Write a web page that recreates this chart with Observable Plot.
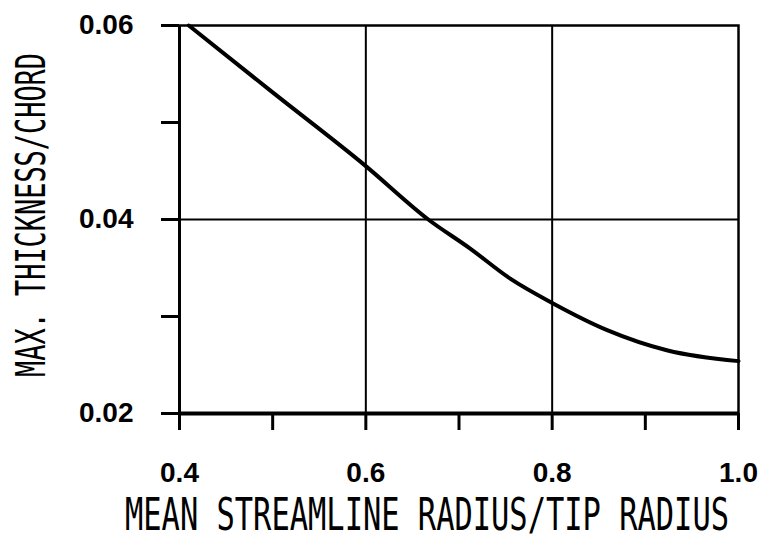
<!DOCTYPE html>
<html>
<head>
<meta charset="utf-8">
<script src="https://cdn.jsdelivr.net/npm/d3@7"></script>
<script src="https://cdn.jsdelivr.net/npm/@observablehq/plot@0.6"></script>
<style>
  html, body { margin: 0; padding: 0; background: #fff; }
  #chart svg { display: block; }
</style>
</head>
<body>
<div id="chart"></div>
<script>
// Curve
const radiusRatio = [0.41, 0.50, 0.60, 0.667, 0.712, 0.755, 0.80, 0.859, 0.924, 1.00];
const thicknessChord = [0.0600, 0.0531, 0.0455, 0.0400, 0.0370, 0.0339, 0.0314, 0.0286, 0.0265, 0.0254];

// Ticks and labels
const xTickValues = [0.4, 0.5, 0.6, 0.7, 0.8, 0.9, 1.0];
const xTickLabels = ["0.4", "", "0.6", "", "0.8", "", "1.0"];
const yTickValues = [0.02, 0.03, 0.04, 0.05, 0.06];
const yTickLabels = ["0.02", "", "0.04", "", "0.06"];
const xGrid = [0.6, 0.8];
const yGrid = [0.04];
const xTitle = "MEAN STREAMLINE RADIUS/TIP RADIUS";
const yTitle = "MAX. THICKNESS/CHORD";

const data = radiusRatio.map((x, i) => ({x, y: thicknessChord[i]}));
const tickFont = {fontSize: 28, fontWeight: "bold", fontFamily: "'Liberation Sans', Arial, sans-serif"};

const chart = Plot.plot({
  width: 766,
  height: 552,
  marginLeft: 179,
  marginRight: 28,
  marginTop: 25,
  marginBottom: 139,
  style: {fontFamily: "'Liberation Sans', Arial, sans-serif", fontSize: "28px", fontWeight: "bold", background: "#fff", color: "#000"},
  x: {domain: [0.4, 1.0]},
  y: {domain: [0.02, 0.06]},
  marks: [
    Plot.ruleX(xGrid, {stroke: "#000", strokeWidth: 2}),
    Plot.ruleY(yGrid, {stroke: "#000", strokeWidth: 2}),
    Plot.frame({stroke: "#000", strokeWidth: 2.5}),
    Plot.ruleY([0.02], {stroke: "#000", strokeWidth: 4}),
    Plot.ruleX([0.4], {stroke: "#000", strokeWidth: 3}),
    Plot.axisX({
      ticks: xTickValues, tickSize: 17, tickPadding: 32, strokeWidth: 3, stroke: "#000", ...tickFont,
      tickFormat: (d) => xTickLabels[xTickValues.findIndex(v => Math.abs(v - d) < 1e-9)],
      label: null
    }),
    Plot.axisY({
      ticks: yTickValues, tickSize: 18, tickPadding: 28, strokeWidth: 3, stroke: "#000", ...tickFont,
      tickFormat: (d) => yTickLabels[yTickValues.findIndex(v => Math.abs(v - d) < 1e-9)],
      label: null
    }),
    Plot.line(data, {x: "x", y: "y", stroke: "#000", strokeWidth: 4, curve: "monotone-x"}),
    Plot.text([xTitle], {
      frameAnchor: "bottom", dx: -32, dy: 116, text: d => d,
      fontFamily: "'DejaVu Sans Mono', monospace", fontSize: 44, fontWeight: "normal", fill: "#000"
    }),
    Plot.text([yTitle], {
      frameAnchor: "left", text: d => d,
      fontFamily: "'DejaVu Sans Mono', monospace", fontSize: 41, fontWeight: "normal", fill: "#000"
    })
  ]
});

d3.select(chart).selectAll("text").each(function() {
  const t = this.textContent;
  if (t === xTitle) d3.select(this).attr("textLength", 604).attr("lengthAdjust", "spacingAndGlyphs");
  if (t === yTitle) {
    d3.select(this.parentNode).attr("transform", null);
    d3.select(this)
      .attr("x", null).attr("y", null).attr("dy", null)
      .attr("transform", "translate(45,215) rotate(-90)")
      .attr("text-anchor", "middle")
      .attr("textLength", 324).attr("lengthAdjust", "spacingAndGlyphs");
  }
});

document.getElementById("chart").appendChild(chart);
</script>
</body>
</html>
